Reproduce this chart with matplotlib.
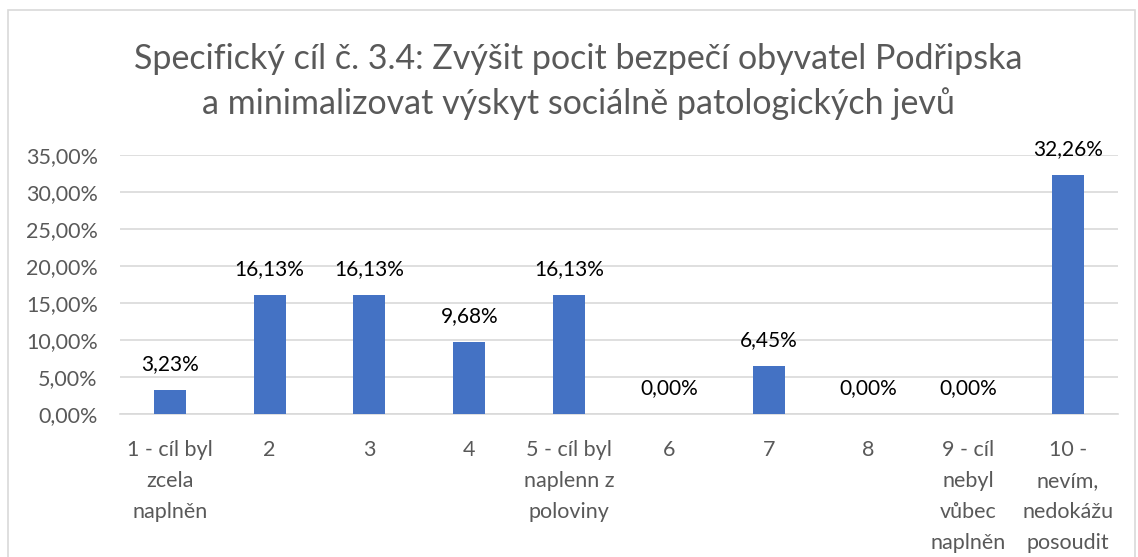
import matplotlib
matplotlib.use("Agg")
import matplotlib.pyplot as plt
from matplotlib.ticker import FuncFormatter
from matplotlib.patches import Rectangle

categories = ["1 - cíl byl\nzcela\nnaplněn", "2", "3", "4", "5 - cíl byl\nnaplenn z\npoloviny",
              "6", "7", "8", "9 - cíl\nnebyl\nvůbec\nnaplněn", "10 -\nnevím,\nnedokážu\nposoudit"]
values = [3.23, 16.13, 16.13, 9.68, 16.13, 0.00, 6.45, 0.00, 0.00, 32.26]
yticks = [0, 5, 10, 15, 20, 25, 30, 35]
title = "Specifický cíl č. 3.4: Zvýšit pocit bezpečí obyvatel Podřipska\na minimalizovat výskyt sociálně patologických jevů"

plt.rcParams['font.family'] = ['Lato', 'DejaVu Sans']

fig = plt.figure(figsize=(11.38, 5.57), dpi=100)
ax = fig.add_axes([0.1054, 0.2567, 0.877, 0.465])

x = list(range(len(categories)))
ax.bar(x, values, width=0.32, color="#4472C4", zorder=3)
for xi, v in zip(x, values):
    ax.annotate(f"{v:.2f}".replace(".", ",") + "%", xy=(xi, v), xytext=(0, 11.5),
                textcoords="offset points", ha="center", va="bottom",
                fontsize=15, color="black", annotation_clip=False)

ax.set_xlim(-0.5, len(categories) - 0.5)
ax.set_ylim(0, 35)
ax.set_yticks(yticks)
ax.yaxis.set_major_formatter(FuncFormatter(lambda v, p: f"{v:.2f}".replace(".", ",") + "%"))
ax.grid(axis="y", color="#D9D9D9", linewidth=1.2, zorder=0)
for s in ["top", "right", "left"]:
    ax.spines[s].set_visible(False)
ax.spines["bottom"].set_color("#D9D9D9")
ax.spines["bottom"].set_linewidth(1.2)
ax.set_xticks(x)
ax.set_xticklabels(categories, fontsize=15.5, color="#595959", linespacing=1.68, va="top")
ax.tick_params(axis="x", length=0, pad=19)
ax.tick_params(axis="y", length=0, pad=16, labelsize=15.5, labelcolor="#595959")

fig.text(0.508, 0.922, title, ha="center", va="top", fontsize=24.5, color="#595959", linespacing=1.45)

fig.patches.append(Rectangle((8/1138, -0.05), 1127/1138, 1 - 10/557 + 0.05, transform=fig.transFigure,
                             fill=False, edgecolor="#D9D9D9", linewidth=1.2))

fig.savefig("out.png", dpi=100)
